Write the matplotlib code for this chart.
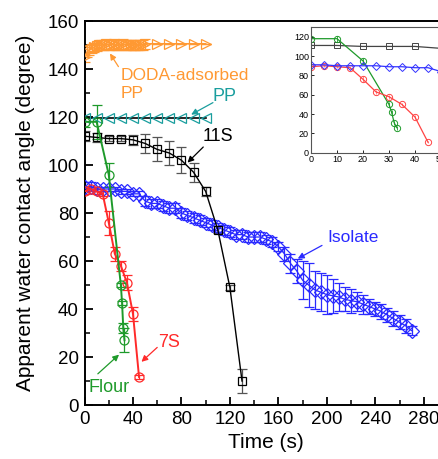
import matplotlib
matplotlib.use("Agg")
import matplotlib.pyplot as plt
from matplotlib.ticker import MultipleLocator

plt.rcParams['font.family'] = ['Liberation Sans', 'DejaVu Sans']

# ---------------- data ----------------
# DODA-adsorbed PP
doda_t = [0, 2, 4, 6, 8, 10, 12, 14, 16, 18, 20, 22, 24, 26, 28, 30, 32, 34, 36, 38,
          40, 42, 44, 46, 48, 50, 60, 70, 80, 90, 100]
doda_y = [145, 147, 148, 148.5, 149, 149.5, 150, 150, 150, 150.5, 150, 150, 150.5, 150, 150,
          150, 150.5, 150, 150, 150, 150, 150, 150, 150, 150, 150.5, 150.5, 150.5, 150.5, 150.5, 150.5]
doda_e = [2, 2, 2, 2, 2, 2, 2, 2, 2, 2, 2, 2, 2, 2, 2, 2, 2, 2, 2, 2,
          2, 2, 2, 2, 2, 2, 0, 0, 0, 0, 0]

# PP
pp_t = [0, 10, 20, 30, 40, 50, 60, 70, 80, 90, 100]
pp_y = [119.5, 119.5, 119.5, 119.5, 119.5, 119.5, 119.5, 119.5, 119.5, 119.5, 119.5]

# 11S
s11_t = [0, 10, 20, 30, 40, 50, 60, 70, 80, 90, 100, 110, 120, 130]
s11_y = [112, 111.5, 111, 111, 110.5, 109, 106.5, 105, 102, 97, 89, 73, 49, 10]
s11_e = [2, 2, 1, 1, 2, 4, 5, 5, 5.5, 4, 2, 1.5, 1, 5]

# Flour
flour_t = [0, 10, 20, 30, 31, 32, 33]
flour_y = [118, 118, 96, 50, 42.5, 32, 27]
flour_e = [2, 7, 5, 1, 1, 2, 5]

# 7S
s7_t = [0, 5, 10, 15, 20, 25, 30, 35, 40, 45]
s7_y = [89, 90, 89, 88, 76, 63, 58, 51, 38, 11.7]
s7_e = [1, 1, 1, 1, 5, 3, 2, 3, 3, 1]

# Isolate
iso_t = [0, 5, 10, 15, 20, 25, 30, 35, 40, 45, 50, 55, 60, 65, 70, 75, 80, 85, 90, 95,
         100, 105, 110, 115, 120, 125, 130, 135, 140, 145, 150, 155, 160, 165, 170, 175,
         180, 185, 190, 195, 200, 205, 210, 215, 220, 225, 230, 235, 240, 245, 250, 255,
         260, 265, 270]
iso_y = [91, 91, 90, 90, 90, 90, 89, 89, 88, 88, 85, 84, 84, 83, 82, 82, 80, 79, 78, 77,
         76, 75, 74, 73, 72, 71, 71, 70, 70, 70, 69, 68, 66, 63, 59, 56,
         52, 50, 48, 47, 46, 45.5, 45, 44, 43.5, 43, 42, 41, 40, 39, 37.5, 36,
         34.5, 33, 31]
iso_e = [2, 2, 1, 1, 1, 1, 1, 1, 1, 1, 2, 2, 2, 2, 2, 2, 2, 2, 2, 2,
         2, 2, 2, 2, 2, 2, 2, 2, 2, 2, 2, 2, 2, 3, 4, 5,
         8, 9, 8, 8, 8, 7, 6, 5, 5, 4, 4, 3, 3, 3, 3, 3,
         3, 3, 2]

# inset data
in_s11_t = [0, 10, 20, 30, 40, 50]
in_s11_y = [111, 111, 110, 110, 110, 108]
in_flour_t = [0, 10, 20, 30, 31, 32, 33]
in_flour_y = [118, 118, 95, 50, 42, 31, 26]
in_flour_e = [3, 3, 3, 3, 2, 2, 2]
in_s7_t = [0, 5, 10, 15, 20, 25, 30, 35, 40, 45]
in_s7_y = [89, 90, 89, 88, 76, 63, 58, 50, 37, 11]
in_s7_e = [1, 1, 1, 1, 3, 2, 2, 2, 2, 1]
in_iso_t = [0, 5, 10, 15, 20, 25, 30, 35, 40, 45, 50]
in_iso_y = [91, 91, 90, 90, 90, 90, 89, 89, 88, 88, 84]

xticks = [0, 40, 80, 120, 160, 200, 240, 280]
yticks = [0, 20, 40, 60, 80, 100, 120, 140, 160]

# colours
c_doda = '#FF9933'
c_pp = '#1A9E9E'
c_flour = '#1E9A2A'
c_7s = '#FF2A2A'
c_iso = '#2A2AFF'

fig = plt.figure(figsize=(4.39, 4.59), dpi=100)
ax = fig.add_axes([0.1925, 0.1176, 0.828, 0.8366])

def series(a, t, y, e, color, marker, ms, lcolor=None, mfc='none', ecolor=None, lw=1.2):
    lc = lcolor if lcolor else color
    if e is not None:
        ax.errorbar(t, y, yerr=e, fmt='none', ecolor=ecolor if ecolor else color,
                    elinewidth=0.9, capsize=3.5, capthick=0.9, zorder=2)
    a.plot(t, y, color=lc, lw=lw, marker=marker, ms=ms, mfc=mfc, mec=color,
           mew=0.9, zorder=3)

series(ax, doda_t, doda_y, doda_e, c_doda, '>', 6.5)
series(ax, pp_t, pp_y, None, c_pp, '<', 6.5, lcolor='black')
series(ax, iso_t, iso_y, iso_e, c_iso, 'D', 7, lw=0.9)
series(ax, s11_t, s11_y, s11_e, 'black', 's', 6, ecolor='#555555', lw=1.0)
series(ax, s7_t, s7_y, s7_e, c_7s, 'o', 6.5, lw=1.4)
series(ax, flour_t, flour_y, flour_e, c_flour, 'o', 6.5, lw=1.4)

ax.set_xlim(0, 300)
ax.set_ylim(0, 160)
ax.set_xticks(xticks)
ax.set_yticks(yticks)
ax.xaxis.set_minor_locator(MultipleLocator(20))
ax.yaxis.set_minor_locator(MultipleLocator(10))
ax.tick_params(which='major', direction='in', length=6, width=1.3, labelsize=13.5, pad=4)
ax.tick_params(which='minor', direction='in', length=3.5, width=1.1)
ax.tick_params(top=False, right=False, which='both')
for s in ax.spines.values():
    s.set_linewidth(1.4)
ax.spines['right'].set_visible(False)
ax.set_xlabel('Time (s)', fontsize=15, labelpad=4)
ax.set_ylabel('Apparent water contact angle (degree)', fontsize=15, labelpad=9)

ap = lambda c: dict(arrowstyle='-|>', color=c, lw=0.9, mutation_scale=9, shrinkA=0, shrinkB=0)
ax.text(30, 137.5, 'DODA-adsorbed', color=c_doda, fontsize=12.5, ha='left', va='center')
ax.text(30, 130, 'PP', color=c_doda, fontsize=12.5, ha='left', va='center')
ax.annotate('', xy=(21, 146.5), xytext=(28, 141), arrowprops=ap(c_doda))
ax.text(106, 125, 'PP', color=c_pp, fontsize=13, ha='left', va='bottom')
ax.annotate('', xy=(88, 121), xytext=(106, 126), arrowprops=ap(c_pp))
ax.text(110, 112, '11S', color='black', fontsize=13, ha='center', va='center')
ax.annotate('', xy=(85, 101), xytext=(98, 107.5), arrowprops=ap('black'))
ax.text(222, 70, 'Isolate', color=c_iso, fontsize=12.5, ha='center', va='center')
ax.annotate('', xy=(176, 61), xytext=(196, 66.5), arrowprops=ap(c_iso))
ax.text(70, 26, '7S', color=c_7s, fontsize=13, ha='center', va='center')
ax.annotate('', xy=(47, 18), xytext=(60, 24), arrowprops=ap(c_7s))
ax.text(20, 7.5, 'Flour', color=c_flour, fontsize=13, ha='center', va='center')
ax.annotate('', xy=(28.5, 21), xytext=(11, 13), arrowprops=ap(c_flour))

# inset
ins = fig.add_axes([0.7085, 0.667, 0.296, 0.274])
ins.plot(in_s11_t, in_s11_y, color='#444444', lw=0.9, marker='s', ms=4, mfc='none', mec='#444444', mew=0.7)
ins.errorbar(in_flour_t, in_flour_y, yerr=in_flour_e, fmt='none', ecolor=c_flour, elinewidth=0.6, capsize=0)
ins.plot(in_flour_t, in_flour_y, color=c_flour, lw=0.9, marker='o', ms=4.5, mfc='none', mec=c_flour, mew=0.7)
ins.errorbar(in_s7_t, in_s7_y, yerr=in_s7_e, fmt='none', ecolor='#FF7777', elinewidth=0.6, capsize=0)
ins.plot(in_s7_t, in_s7_y, color='#FF4444', lw=0.9, marker='o', ms=4.5, mfc='none', mec='#FF4444', mew=0.7)
ins.plot(in_iso_t, in_iso_y, color='#3333FF', lw=0.9, marker='D', ms=4, mfc='none', mec='#3333FF', mew=0.7)
ins.set_xlim(0, 50)
ins.set_ylim(0, 130)
ins.set_xticks([0, 10, 20, 30, 40, 50])
ins.set_yticks([0, 20, 40, 60, 80, 100, 120])
ins.tick_params(direction='in', length=2, width=0.6, labelsize=6.5, pad=1.5)
for s in ins.spines.values():
    s.set_linewidth(0.8)
    s.set_color('#555555')

fig.savefig('out.png', dpi=100)
